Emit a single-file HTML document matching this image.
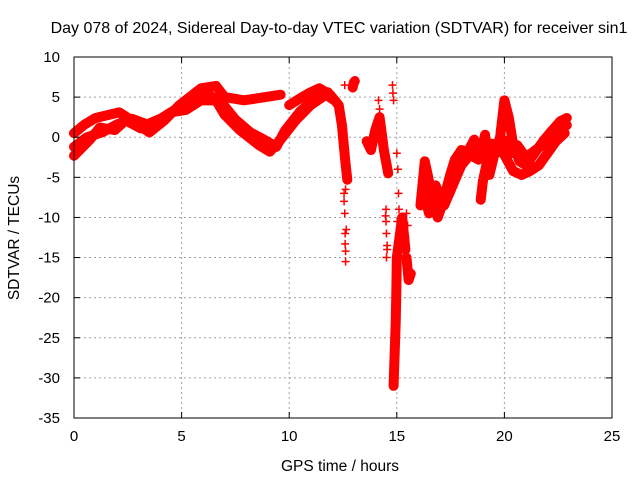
<!DOCTYPE html>
<html><head><meta charset="utf-8"><style>
body{margin:0;background:#fff}
svg{display:block;font-family:"Liberation Sans",sans-serif}
</style></head><body>
<svg id="chart" width="640" height="480">
<rect width="640" height="480" fill="#fff"/>
<g id="grid"></g>
<g id="series"></g>
<g id="axes"></g>
<text x="339" y="33" text-anchor="middle" font-size="16">Day 078 of 2024, Sidereal Day-to-day VTEC variation (SDTVAR) for receiver sin1</text>
<text x="340" y="471" text-anchor="middle" font-size="15.5">GPS time / hours</text>
<text transform="translate(19,238) rotate(-90)" text-anchor="middle" font-size="15.5">SDTVAR / TECUs</text>
</svg>
<script>
const xTicks=[0,5,10,15,20,25];
const yTicks=[10,5,0,-5,-10,-15,-20,-25,-30,-35];
const trackAT=[0,0.74,1.2,1.9,2.4,3.1,3.8,4.5,5.2,5.9,6.6,7.0,7.7,8.6,9.1,9.6,10.3,11.0,11.7,12.1];
const trackAV=[-2.3,-0.3,1.2,0.9,2.1,1.1,1.9,3.1,3.4,4.6,4.6,2.8,0.9,-1.0,-1.8,-0.3,2.1,4.0,5.3,4.6];
const trackBT=[0,0.5,1.0,2.1,2.8,3.5,4.2,4.9,5.9,6.6,7.0,7.9,8.9,9.6];
const trackBV=[0.5,1.6,2.4,3.1,1.9,0.6,2.1,4.0,6.1,6.4,5.0,4.6,5.0,5.3];
const trackCT=[0,0.6,1.3,2.0,2.7,3.4,4.1,4.8,5.5,6.2,6.9,7.5,8.2,8.9,9.4,9.8,10.5,11.2,11.8];
const trackCV=[-1.2,0.0,0.6,1.6,2.3,1.6,2.4,3.6,4.5,5.4,4.2,2.2,0.6,-0.4,-1.2,0.8,3.2,4.8,5.6];
const trackDT=[10.0,10.6,11.0,11.4,11.9,12.3,12.45,12.6,12.7];
const trackDV=[4.0,5.0,5.6,6.1,5.3,4.0,1.5,-2.8,-5.3];
const trackET=[12.95,13.0,13.05];
const trackEV=[6.2,6.8,7.0];
const trackFT=[13.6,13.8,14.0,14.2,14.4,14.6];
const trackFV=[-0.5,-1.6,0.9,2.5,-1.6,-4.5];
const trackGT=[14.85,14.9,14.95,14.98,15.0,15.05,15.15,15.25,15.4];
const trackGV=[-31,-27,-23,-19,-15,-14,-12,-10,-14];
const trackHT=[15.45,15.55,15.65];
const trackHV=[-15,-17.8,-17];
const trackIT=[16.1,16.3,16.5,16.7,16.9,17.1,17.3,17.5,17.7,18.0,18.3,18.6,18.9,19.1,19.3,19.5,19.8,20.0,20.2,20.4,20.7,21.0,21.4,21.8,22.2,22.6,22.9];
const trackIV=[-8.5,-3.0,-5.5,-8.0,-10.0,-8.5,-6.5,-4.5,-2.8,-1.6,-1.8,-0.3,-2.5,0.3,-4.7,-2.5,0.0,4.6,2.5,-0.8,-3.0,-3.5,-2.0,-0.5,0.8,2.0,2.4];
const trackJT=[16.2,16.5,16.8,17.2,17.6,18.0,18.4,18.8,19.2,19.6,20.0,20.4,20.8,21.2,21.6,22.0,22.4,22.8];
const trackJV=[-6.6,-9.5,-6.0,-8.5,-6.0,-3.5,-2.2,-2.8,-1.0,-1.2,-2.2,-4.2,-4.7,-4.2,-3.5,-2.0,-0.5,0.5];
const trackKT=[18.9,19.0,19.2,19.4,19.7,20.0,20.3,20.6,21.0,21.5,22.0,22.5,22.9];
const trackKV=[-7.8,-5.5,-3.0,-0.8,-1.5,-0.4,-2.0,-1.0,-2.5,-1.5,-0.5,1.0,1.5];
const sparseT=[12.55,12.55,12.58,12.6,12.6,12.62,12.62,12.65,12.62,12.58,14.15,14.2,14.25,14.5,14.5,14.52,14.55,14.52,14.55,14.48,14.8,14.82,14.85,15.05,15.08,15.02,15.0,15.1,15.45,15.5,15.4];
const sparseV=[-7,-8,-9.5,-12,-13.3,-14.2,-15.5,-11.5,-6.5,6.5,4.6,3.5,1.5,-9,-10.5,-12,-13.5,-15,-14,-9.8,6.5,5.5,4.6,-4,-7,-10.5,-2,-9,-9.5,-11,-12.5];
const tracks=[[trackAT,trackAV],[trackBT,trackBV],[trackCT,trackCV],[trackDT,trackDV],[trackET,trackEV],[trackFT,trackFV],[trackGT,trackGV],[trackHT,trackHV],[trackIT,trackIV],[trackJT,trackJV],[trackKT,trackKV]];

const X0=74,X1=612,Y0=57,Y1=418;
const xs=t=>X0+(t-0)/25*(X1-X0);
const ys=v=>Y0+(10-v)/45*(Y1-Y0);
const NS='http://www.w3.org/2000/svg';
function mk(tag,attrs,parent){const e=document.createElementNS(NS,tag);for(const k in attrs)e.setAttribute(k,attrs[k]);parent.appendChild(e);return e;}
const grid=document.getElementById('grid'),axes=document.getElementById('axes'),ser=document.getElementById('series');
xTicks.forEach(t=>{
  const x=xs(t);
  if(t>0&&t<25){const g=mk('line',{x1:x,y1:Y0,x2:x,y2:Y1,stroke:'#a0a0a0','stroke-dasharray':'2,3'},grid);
  
  }
  mk('line',{x1:x,y1:Y1,x2:x,y2:Y1-6,stroke:'#000'},axes);
  mk('line',{x1:x,y1:Y0,x2:x,y2:Y0+6,stroke:'#000'},axes);
  const l=mk('text',{x:x,y:Y1+23,'text-anchor':'middle','font-size':'15'},axes);l.textContent=t;
  
  
});
yTicks.forEach(v=>{
  const y=ys(v);
  if(v<10&&v>-35){const g=mk('line',{x1:X0,y1:y,x2:X1,y2:y,stroke:'#a0a0a0','stroke-dasharray':'2,3'},grid);
  
  }
  mk('line',{x1:X0,y1:y,x2:X0+6,y2:y,stroke:'#000'},axes);
  mk('line',{x1:X1,y1:y,x2:X1-6,y2:y,stroke:'#000'},axes);
  const l=mk('text',{x:X0-14,y:y+5,'text-anchor':'end','font-size':'15'},axes);l.textContent=v;
  
  
});
const fr=mk('rect',{x:X0,y:Y0,width:X1-X0,height:Y1-Y0,fill:'none',stroke:'#000','stroke-width':1},axes);


function plus(x,y,color){mk('path',{d:`M${x-4},${y}h8M${x},${y-4}v8`,stroke:color,'stroke-width':1.5,fill:'none'},ser);}
tracks.forEach(([T,V])=>{
  const pts=T.map((t,i)=>xs(t)+','+ys(V[i])).join(' ');
  const p=mk('polyline',{points:pts,fill:'none',stroke:'#ff0000','stroke-width':10,'stroke-linejoin':'round','stroke-linecap':'round'},ser);
  
  
  T.forEach((t,i)=>plus(xs(t),ys(V[i]),'#ff0000'));
});
sparseT.forEach((t,i)=>plus(xs(t),ys(sparseV[i]),'#ff0000'));
</script>
</body></html>
